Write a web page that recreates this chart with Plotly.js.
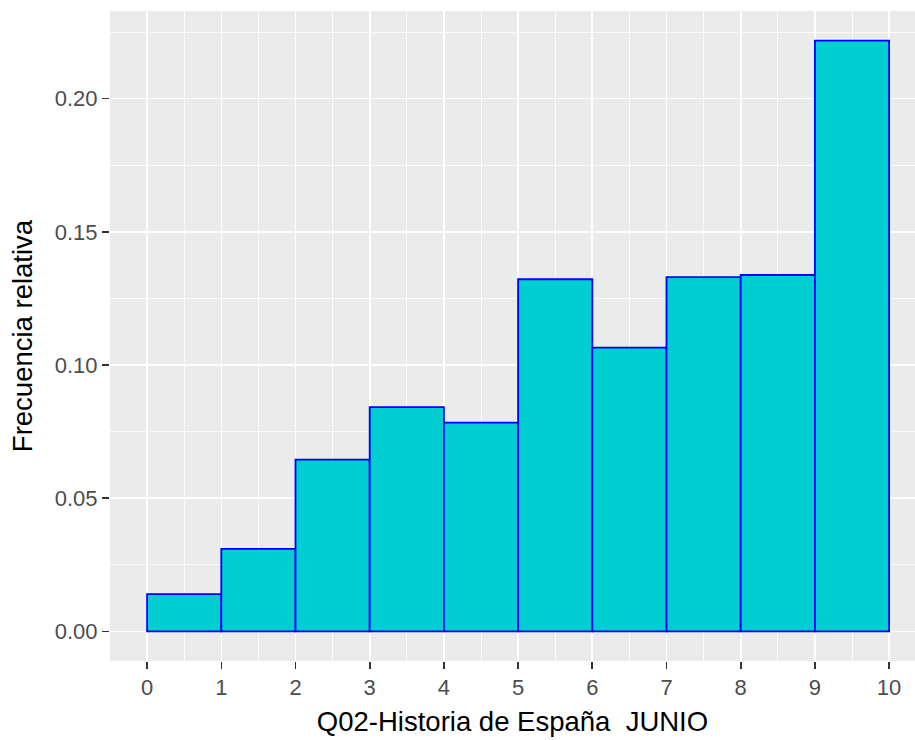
<!DOCTYPE html>
<html>
<head>
<meta charset="utf-8">
<script src="https://cdn.plot.ly/plotly-3.0.1.min.js"></script>
<style>html,body{margin:0;padding:0;background:#fff;overflow:hidden}</style>
</head>
<body>
<div id="chart" style="width:915px;height:740px"></div>
<script>
// Histogram bins (left edges) and relative frequencies
const binStarts = [0, 1, 2, 3, 4, 5, 6, 7, 8, 9];
const binWidth = 1;
const relFreq = [0.0140, 0.0310, 0.0645, 0.0842, 0.0784, 0.1322, 0.1065, 0.1330, 0.1338, 0.2218];
const xTicks = [0, 1, 2, 3, 4, 5, 6, 7, 8, 9, 10];
const yTicks = [0.00, 0.05, 0.10, 0.15, 0.20];
const xTitle = 'Q02-Historia de España  JUNIO';
const yTitle = 'Frecuencia relativa';

const font = "'Liberation Sans', Arial, sans-serif";

const trace = {
  type: 'bar',
  x: binStarts.map(b => b + binWidth / 2),
  y: relFreq,
  width: binStarts.map(() => binWidth),
  marker: { color: '#00CED1', line: { color: '#0000FF', width: 1.8 } },
  hoverinfo: 'x+y'
};

const layout = {
  width: 915, height: 740,
  margin: { l: 110, r: 0, t: 11, b: 79 },
  paper_bgcolor: '#FFFFFF',
  plot_bgcolor: '#EBEBEB',
  showlegend: false,
  bargap: 0,
  font: { family: font, color: '#4D4D4D' },
  xaxis: {
    range: [-0.5, 10.349],
    tickmode: 'array', tickvals: xTicks, ticktext: xTicks.map(String),
    ticks: 'outside', ticklen: 7, tickwidth: 1.6, tickcolor: '#333333',
    tickfont: { family: font, size: 22, color: '#4D4D4D' },
    showgrid: true, gridcolor: '#FFFFFF', gridwidth: 1.6,
    minor: { dtick: 0.5, tick0: 0, showgrid: true, gridcolor: '#FFFFFF', gridwidth: 0.8, ticks: '' },
    zeroline: false, showline: false,
    title: { text: xTitle, font: { family: font, size: 27.5, color: '#000000' }, standoff: 12 }
  },
  yaxis: {
    range: [-0.0111, 0.2329],
    tickmode: 'array', tickvals: yTicks, ticktext: yTicks.map(v => v.toFixed(2)),
    ticks: 'outside', ticklen: 7, tickwidth: 1.6, tickcolor: '#333333',
    tickfont: { family: font, size: 22, color: '#4D4D4D' },
    showgrid: true, gridcolor: '#FFFFFF', gridwidth: 1.6,
    minor: { dtick: 0.025, tick0: 0, showgrid: true, gridcolor: '#FFFFFF', gridwidth: 0.8, ticks: '' },
    zeroline: false, showline: false,
    title: { text: yTitle, font: { family: font, size: 27.5, color: '#000000' }, standoff: 14 }
  }
};

Plotly.newPlot('chart', [trace], layout, { displayModeBar: false, staticPlot: true });
</script>
</body>
</html>
